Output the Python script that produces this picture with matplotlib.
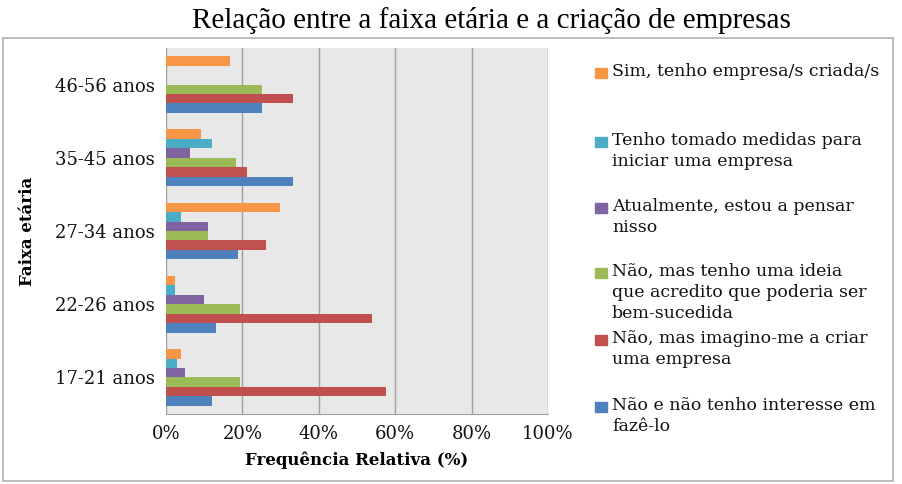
import numpy as np
import matplotlib
matplotlib.use("Agg")
import matplotlib.pyplot as plt
from matplotlib.patches import Rectangle

# data (percent)
grupos = ['17-21 anos', '22-26 anos', '27-34 anos', '35-45 anos', '46-56 anos']
nao_interesse = [12, 13, 18.8, 33.3, 25.2]
imagino = [57.5, 54, 26.3, 21.2, 33.3]
ideia = [19.5, 19.5, 11.1, 18.4, 25]
pensar = [5.1, 9.9, 11.1, 6.3, 0]
medidas = [3.0, 2.3, 3.9, 12.1, 0]
sim_empresa = [3.9, 2.3, 29.8, 9.2, 16.8]

series = [
    ('Não e não tenho interesse em\nfazê-lo', nao_interesse, '#4F81BD'),
    ('Não, mas imagino-me a criar\numa empresa', imagino, '#C0504D'),
    ('Não, mas tenho uma ideia\nque acredito que poderia ser\nbem-sucedida', ideia, '#9BBB59'),
    ('Atualmente, estou a pensar\nnisso', pensar, '#8064A2'),
    ('Tenho tomado medidas para\niniciar uma empresa', medidas, '#4BACC6'),
    ('Sim, tenho empresa/s criada/s', sim_empresa, '#F79646'),
]

W, H = 903, 484
fig = plt.figure(figsize=(W / 100, H / 100), dpi=100)

# outer frame
fig.add_artist(Rectangle((3 / W, 1 - 481 / H), 890 / W, 443 / H, transform=fig.transFigure,
                         fill=False, edgecolor='#b0b0b0', linewidth=1.2))

ax = fig.add_axes([166 / W, 1 - 414 / H, 382 / W, 366 / H])
ax.set_facecolor('#e8e8e8')

y = np.arange(len(grupos))
h = 0.129
for i, (lab, vals, col) in enumerate(series):
    ax.barh(y + (i - 2.5) * h, vals, height=h, color=col, zorder=3)

ax.set_xlim(0, 100)
ax.set_ylim(-0.5, len(grupos) - 0.5)
ax.set_xticks([0, 20, 40, 60, 80, 100])
ax.set_xticklabels([f'{v}%' for v in [0, 20, 40, 60, 80, 100]])
ax.set_yticks(y)
ax.set_yticklabels(grupos)
ax.grid(axis='x', color='#a0a0a0', linewidth=1.0, zorder=0)
for s in ['top', 'right']:
    ax.spines[s].set_visible(False)
ax.spines['left'].set_visible(False)
ax.spines['bottom'].set_color('#a0a0a0')
ax.tick_params(length=0, pad=8)
for t in ax.get_xticklabels() + ax.get_yticklabels():
    t.set_fontfamily('DejaVu Serif')
    t.set_fontsize(13)
    t.set_color('#111111')

ax.set_xlabel('Frequência Relativa (%)', fontfamily='DejaVu Serif', fontweight='bold',
              fontsize=12, labelpad=6)
ax.set_ylabel('Faixa etária', fontfamily='DejaVu Serif', fontweight='bold', fontsize=12,
              labelpad=14)

fig.text(491 / W, 1 - 21 / H, 'Relação entre a faixa etária e a criação de empresas',
         ha='center', va='center', fontfamily='Liberation Serif', fontsize=21)

# legend, drawn by hand so the marker sits on the first line
leg_y = [407, 340, 273, 208, 142, 73]
for (lab, vals, col), yy in zip(series, leg_y):
    fig.add_artist(Rectangle((595 / W, 1 - (yy + 5) / H), 12 / W, 10 / H,
                             transform=fig.transFigure, color=col))
    fig.text(612 / W, 1 - (yy - 10) / H, lab, ha='left', va='top',
             fontfamily='DejaVu Serif', fontsize=12.5, linespacing=1.32, color='#111111')

fig.savefig('out.png', dpi=100)
